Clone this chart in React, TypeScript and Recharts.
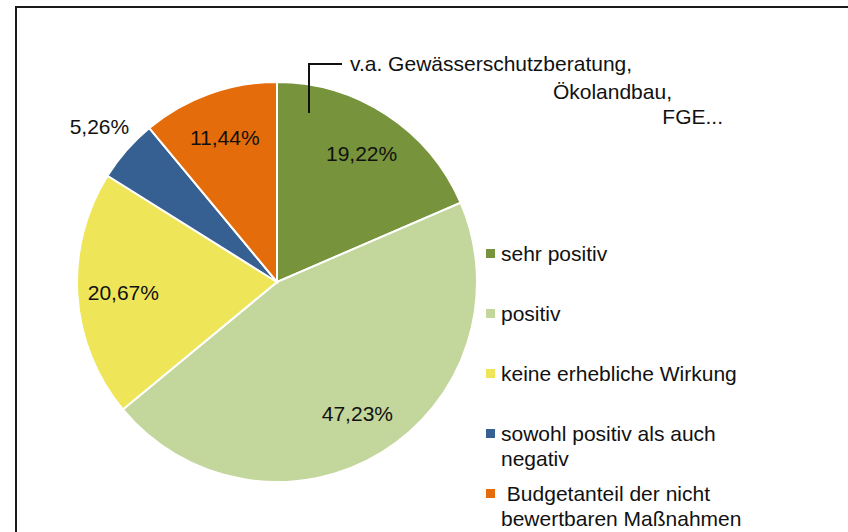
import { PieChart, Pie, Cell, Legend } from 'recharts'

const categories = [
  'sehr positiv',
  'positiv',
  'keine erhebliche Wirkung',
  'sowohl positiv als auch negativ',
  ' Budgetanteil der nicht bewertbaren Maßnahmen',
]
const shares = [19.22, 47.23, 20.67, 5.26, 11.44]
const colors = ['#77933C', '#C3D69B', '#EEE658', '#376092', '#E46C0A']
const noteLines = ['v.a. Gewässerschutzberatung,', 'Ökolandbau,', 'FGE...']

const data = categories.map((name, i) => ({ name, value: shares[i] }))

const FONT = '"Liberation Sans", Arial, sans-serif'
const RADIAN = Math.PI / 180

function renderLabel(props: any) {
  const { cx, cy, midAngle, outerRadius, value, percent } = props
  // tiny slices get their label outside the pie
  const r = outerRadius * (percent < 0.06 ? 1.18 : 0.77)
  const x = cx + r * Math.cos(-midAngle * RADIAN)
  const y = cy + r * Math.sin(-midAngle * RADIAN)
  return (
    <text x={x} y={y} textAnchor="middle" dominantBaseline="central" fill="#111" fontSize={21} fontFamily={FONT}>
      {Number(value).toFixed(2).replace('.', ',')}%
    </text>
  )
}

function renderLegend(props: any) {
  // keep the data order, not the alphabetical one
  const items = [...(props.payload ?? [])].sort(
    (a: any, b: any) => categories.indexOf(a.value) - categories.indexOf(b.value),
  )
  return (
    <div style={{ fontFamily: FONT, fontSize: 21, color: '#111' }}>
      {items.map((entry: any) => (
        <div key={entry.value} style={{ height: 60, display: 'flex', alignItems: 'flex-start' }}>
          <span style={{ width: 9, height: 9, background: entry.color, marginTop: 8, marginRight: 6, flexShrink: 0 }} />
          <span style={{ width: 250, lineHeight: '25px', whiteSpace: 'pre-wrap' }}>{entry.value}</span>
        </div>
      ))}
    </div>
  )
}

export default function App() {
  return (
    <div style={{ position: 'absolute', left: 0, top: 0, width: 848, height: 532, overflow: 'hidden', background: '#fff' }}>
      <div style={{ position: 'absolute', left: 15, top: 6, width: 900, height: 600, border: '2px solid #1a1a1a' }} />
      <div style={{ position: 'absolute', left: 0, top: 0 }}>
        <PieChart width={848} height={532} margin={{ top: 0, right: 0, bottom: 0, left: 0 }}>
          <Pie
            data={data}
            dataKey="value"
            nameKey="name"
            cx={277}
            cy={282}
            outerRadius={200}
            startAngle={90}
            endAngle={-270}
            stroke="#fff"
            strokeWidth={2}
            label={renderLabel}
            labelLine={false}
            isAnimationActive={false}
          >
            {data.map((d, i) => (
              <Cell key={d.name} fill={colors[i]} />
            ))}
          </Pie>
          <Legend
            layout="vertical"
            itemSorter={null as any}
            content={renderLegend}
            wrapperStyle={{ position: 'absolute', left: 486, top: 241, width: 270 }}
          />
        </PieChart>
      </div>
      <svg width={848} height={532} style={{ position: 'absolute', left: 0, top: 0, pointerEvents: 'none' }}>
        <path d="M309,113 V64 H342" fill="none" stroke="#111" strokeWidth={2} />
        <text x={350} y={71} fontSize={21} fontFamily={FONT} fill="#111">{noteLines[0]}</text>
        <text x={672} y={99} fontSize={21} fontFamily={FONT} fill="#111" textAnchor="end">{noteLines[1]}</text>
        <text x={723} y={124} fontSize={21} fontFamily={FONT} fill="#111" textAnchor="end">{noteLines[2]}</text>
      </svg>
    </div>
  )
}
